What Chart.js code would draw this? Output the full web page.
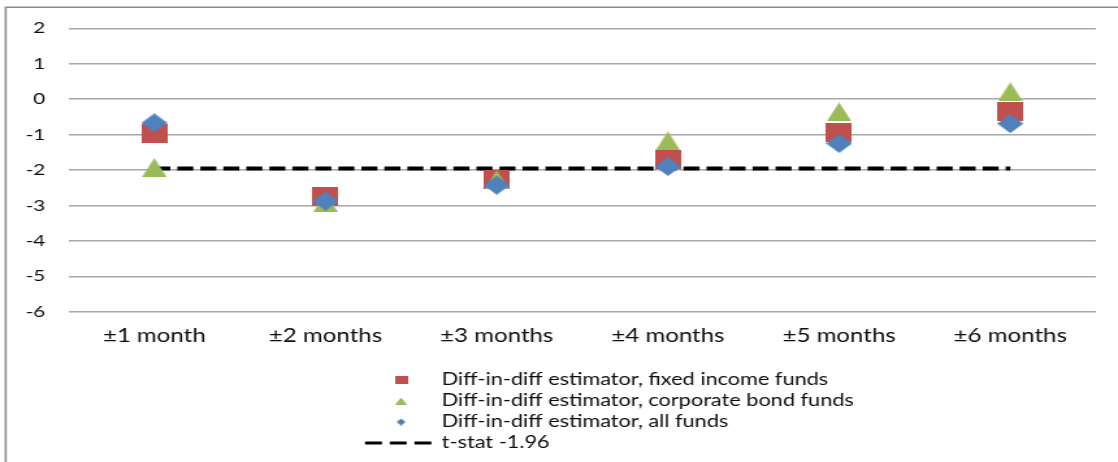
<!DOCTYPE html>
<html>
<head>
<meta charset="utf-8">
<style>
  html, body { margin: 0; padding: 0; background: #fff; overflow: hidden; }
  /* the drawing is laid out on an 860px-wide canvas and widened to 1118px */
  #wrap { width: 860px; height: 462px; transform: scaleX(1.3); transform-origin: 0 0; }
  canvas { display: block; }
</style>
<script src="https://cdn.jsdelivr.net/npm/chart.js@4/dist/chart.umd.min.js"></script>
</head>
<body>
<div id="wrap"><canvas id="c" width="860" height="462"></canvas></div>
<script>
// Event windows around the announcement
const categories = ['±1 month', '±2 months', '±3 months', '±4 months', '±5 months', '±6 months'];

// Difference-in-differences estimates (t-statistics)
const fixedIncome   = [-0.98, -2.75, -2.26, -1.69, -0.93, -0.34];
const corporateBond = [-1.93, -2.92, -2.27, -1.18, -0.36, 0.21];
const allFunds      = [-0.67, -2.88, -2.43, -1.90, -1.25, -0.69];

// Critical value reference line
const tStat = [-1.96, -1.96, -1.96, -1.96, -1.96, -1.96];

// Y axis tick values
const yTicks = [2, 1, 0, -1, -2, -3, -4, -5, -6];

const RED = '#C0504D', GREEN = '#9BBB59', BLUE = '#4F81BD';
const FONT = 'Lato, "Open Sans", "DejaVu Sans", sans-serif';
const TEXT = '#0d0d0d';

// Marker bitmaps: square, triangle and diamond of a given box size
function marker(shape, w, h, color) {
  const cv = document.createElement('canvas');
  cv.width = w; cv.height = h;
  const g = cv.getContext('2d');
  g.fillStyle = color;
  g.beginPath();
  if (shape === 'square') {
    g.rect(0, 0, w, h);
  } else if (shape === 'triangle') {
    g.moveTo(w / 2, 0); g.lineTo(w, h); g.lineTo(0, h); g.closePath();
  } else {
    g.moveTo(w / 2, 0); g.lineTo(w, h / 2); g.lineTo(w / 2, h); g.lineTo(0, h / 2); g.closePath();
  }
  g.fill();
  return cv;
}

const squareMark   = marker('square', 20, 19, RED);
const triangleMark = marker('triangle', 19, 19, GREEN);
const diamondMark  = marker('diamond', 20, 19, BLUE);

const legendMarks = [
  marker('square', 10, 8, RED),
  marker('triangle', 9, 7, GREEN),
  marker('diamond', 7, 7, BLUE)
];

// Outer frame of the figure (left and top edges)
const framePlugin = {
  id: 'frame',
  beforeDraw(chart) {
    const ctx = chart.ctx;
    ctx.save();
    ctx.fillStyle = '#ffffff';
    ctx.fillRect(0, 0, chart.width, chart.height);
    ctx.strokeStyle = '#8c8c8c';
    ctx.lineWidth = 1.6;
    ctx.beginPath();
    ctx.moveTo(4.4, chart.height);
    ctx.lineTo(4.4, 7.3);
    ctx.lineTo(chart.width, 7.3);
    ctx.stroke();
    ctx.restore();
  }
};

// Stacked legend under the plot
const stackedLegend = {
  id: 'stackedLegend',
  afterDraw(chart) {
    const ctx = chart.ctx;
    const rows = [380, 401, 422, 443];
    const markX = 308.5, textX = 339.8;
    ctx.save();
    ctx.font = '16.7px ' + FONT;
    ctx.fillStyle = TEXT;
    ctx.textBaseline = 'middle';
    ctx.textAlign = 'left';
    chart.data.datasets.forEach((ds, i) => {
      const y = rows[i];
      if (i < 3) {
        const m = legendMarks[i];
        ctx.drawImage(m, markX - m.width / 2, y - m.height / 2);
      } else {
        ctx.save();
        ctx.strokeStyle = '#000';
        ctx.lineWidth = 3;
        ctx.setLineDash([13, 6]);
        ctx.beginPath();
        ctx.moveTo(280.8, y);
        ctx.lineTo(332.5, y);
        ctx.stroke();
        ctx.restore();
      }
      ctx.fillText(ds.label, textX, y);
    });
    ctx.restore();
  }
};

new Chart(document.getElementById('c'), {
  type: 'line',
  data: {
    labels: categories,
    datasets: [
      {
        label: 'Diff-in-diff estimator, fixed income funds',
        data: fixedIncome,
        showLine: false,
        pointStyle: squareMark,
        pointRadius: 10,
        backgroundColor: RED,
        borderColor: RED,
        order: 3
      },
      {
        label: 'Diff-in-diff estimator, corporate bond funds',
        data: corporateBond,
        showLine: false,
        pointStyle: triangleMark,
        pointRadius: 10,
        backgroundColor: GREEN,
        borderColor: GREEN,
        order: 2
      },
      {
        label: 'Diff-in-diff estimator, all funds',
        data: allFunds,
        showLine: false,
        pointStyle: diamondMark,
        pointRadius: 10,
        backgroundColor: BLUE,
        borderColor: BLUE,
        order: 1
      },
      {
        label: 't-stat -1.96',
        data: tStat,
        borderColor: '#000000',
        borderWidth: 4,
        borderDash: [12.3, 5.4],
        pointRadius: 0,
        fill: false,
        tension: 0,
        order: 4
      }
    ]
  },
  options: {
    responsive: false,
    animation: false,
    devicePixelRatio: 1,
    events: [],
    layout: { padding: { top: 28.3, right: 17, bottom: 110.3, left: 0 } },
    plugins: {
      legend: { display: false },
      tooltip: { enabled: false }
    },
    scales: {
      x: {
        type: 'category',
        offset: true,
        grid: { display: false, drawTicks: false },
        border: { display: false },
        ticks: {
          color: TEXT,
          font: { family: FONT, size: 18.5 },
          padding: 13,
          maxRotation: 0
        },
        afterFit(scale) { scale.height = 40; }
      },
      y: {
        min: -6,
        max: 2,
        grid: { color: '#a8a8a8', lineWidth: 1.5, drawTicks: false },
        border: { display: false },
        afterBuildTicks(scale) { scale.ticks = yTicks.map(v => ({ value: v })); },
        ticks: {
          color: TEXT,
          font: { family: FONT, size: 16 },
          padding: 18
        },
        afterFit(scale) { scale.width = 52.85; }
      }
    }
  },
  plugins: [framePlugin, stackedLegend]
});
</script>
</body>
</html>
